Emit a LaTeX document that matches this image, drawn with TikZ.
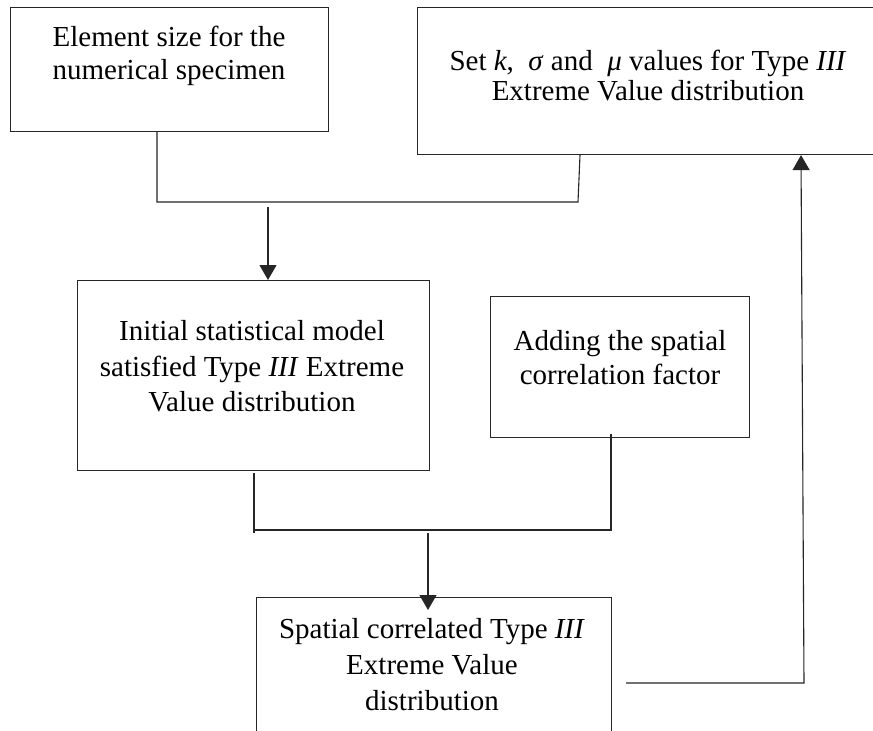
\documentclass[tikz,border=0pt]{standalone}
\usepackage{fontspec}
\setmainfont{Liberation Serif}
\usetikzlibrary{arrows.meta,calc}

\tikzset{
  box/.style={draw=black!85, line width=1.1pt, rectangle, inner sep=0pt, anchor=north west},
  txt/.style={align=center, inner sep=0pt},
  link/.style={draw=black!85, line width=1.1pt},
  flow/.style={link, -{Triangle[width=17pt,length=15pt]}},
}

\begin{document}
\begin{tikzpicture}[x=1pt, y=-1pt]
  \useasboundingbox (0,0) rectangle (873,731);
  \clip (0,0) rectangle (873,731);
  \fill[white] (0,0) rectangle (873,731);

  % process boxes
  \node[box, minimum width=318pt, minimum height=124pt] (b1) at (10,7) {};
  \node[box, minimum width=490pt, minimum height=147pt] (b2) at (417,7) {};
  \node[box, minimum width=352pt, minimum height=190pt] (b3) at (77,280) {};
  \node[box, minimum width=259pt, minimum height=141pt] (b4) at (490,296) {};
  \node[box, minimum width=355pt, minimum height=170pt] (b5) at (256,597) {};

  % box texts
  \node[txt, font=\fontsize{29}{33}\selectfont] (t1) at (169,55.5)
    {Element size for the\\numerical specimen};
  \node[txt, font=\fontsize{29}{30}\selectfont] (t2) at (648,76)
    {Set \textit{k},\ \ \textit{σ} and \ \textit{μ} values for Type \textit{III}\\Extreme Value distribution};
  \node[txt, font=\fontsize{29}{35.5}\selectfont] (t3) at (252,366.5)
    {Initial statistical model\\satisfied Type \textit{III} Extreme\\Value distribution};
  \node[txt, font=\fontsize{29}{34}\selectfont] (t4) at (620,358)
    {Adding the spatial\\correlation factor};
  \node[txt, font=\fontsize{29}{36}\selectfont] (t5) at (432,664.5)
    {Spatial correlated Type \textit{III}\\Extreme Value\\distribution};

  % merge of the two top boxes
  \coordinate (m1) at (157,202);
  \coordinate (m2) at (578,202);
  \coordinate (m2t) at (580,0);
  \draw[link] (m1 |- b1.south) -- (m1) -- (m2) -- (m2t |- b2.south);
  \coordinate (a1) at (268,207);
  \draw[flow] (a1) -- (a1 |- b3.north);

  % merge of the two middle boxes
  \coordinate (m3) at (254,530);
  \coordinate (m4) at (611,530);
  \draw[link] ($(m3 |- b3.south)+(0,2)$) -- ($(m3)+(0,3)$);
  \draw[link] (m3) -- (m4) -- ($(m4 |- b4.south)+(0,-4)$);
  \coordinate (a2) at (428,533);
  \draw[flow] (a2) -- ($(a2 |- b5.north)+(0,13)$);

  % feedback to the parameter box
  \coordinate (f) at (626,683);
  \coordinate (m5) at (804,683);
  \coordinate (a3t) at (801,0);
  \draw[flow] (f) -- (m5) -- (a3t |- b2.south);
\end{tikzpicture}
\end{document}
